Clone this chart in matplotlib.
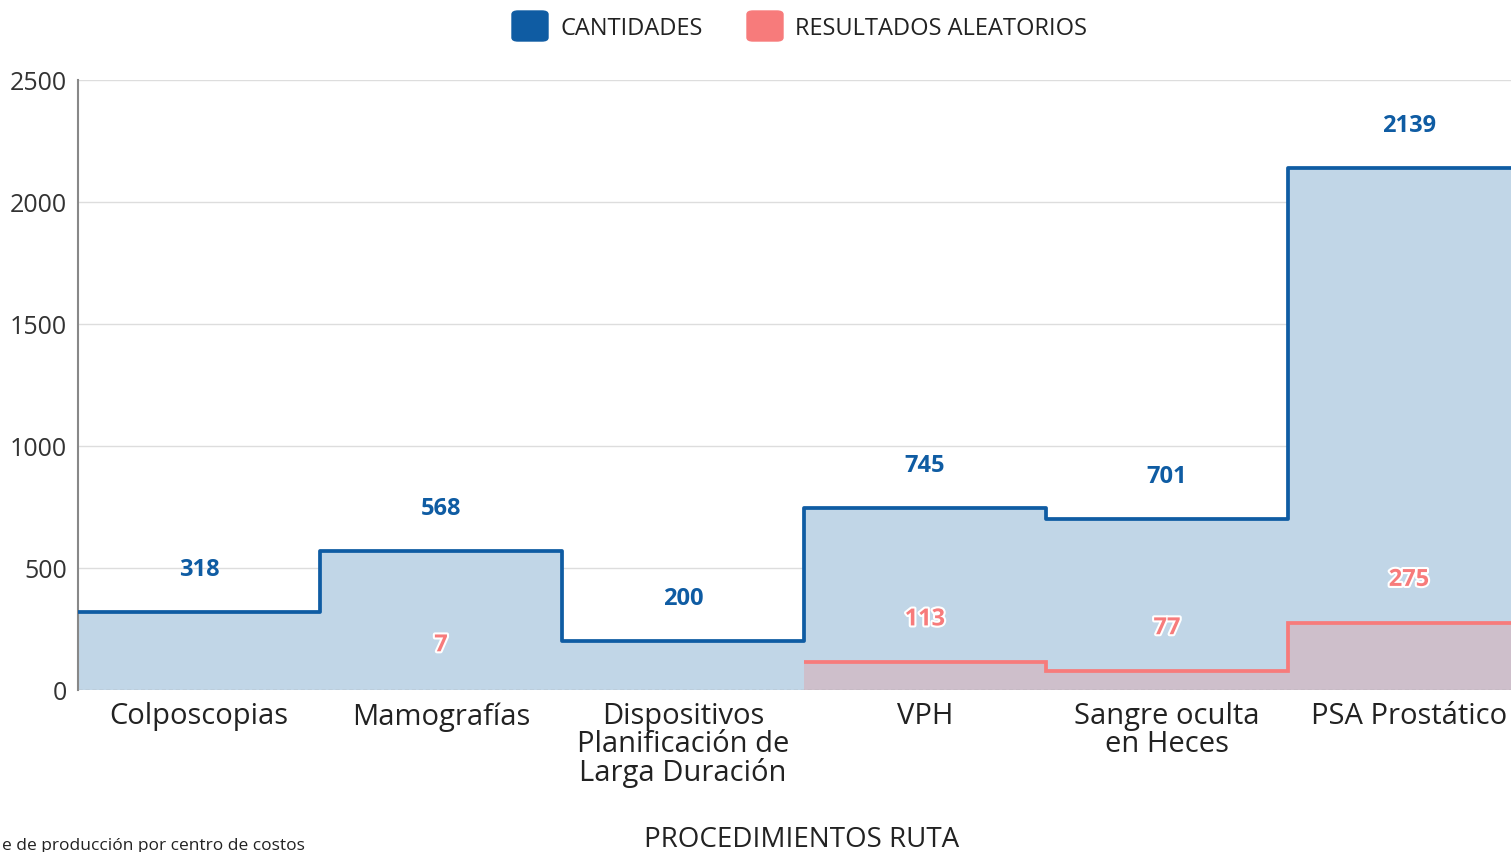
import numpy as np
import matplotlib
matplotlib.use("Agg")
import matplotlib.pyplot as plt
import matplotlib.patheffects as pe
from matplotlib.patches import FancyBboxPatch

plt.rcParams['font.family'] = ['Open Sans', 'DejaVu Sans']

categorias = ['Colposcopias', 'Mamografías', 'Dispositivos\nPlanificación de\nLarga Duración',
              'VPH', 'Sangre oculta\nen Heces', 'PSA Prostático']
cantidades = [318, 568, 200, 745, 701, 2139]
aleatorios = [np.nan, 7, np.nan, 113, 77, 275]

AZUL = '#0f5ca3'
AZUL_FILL = '#c1d6e7'
ROJO = '#f77b7b'

W, H = 1511, 853
fig = plt.figure(figsize=(W / 100, H / 100), dpi=100)
ax = fig.add_axes([78 / W, (H - 691) / H, (1530 - 78) / W, 610 / H])

n = len(categorias)
edges = np.arange(n + 1)

# serie azul
ax.stairs(cantidades, edges, baseline=0, fill=True, color=AZUL_FILL, zorder=1)
ax.stairs(cantidades, edges, baseline=None, color=AZUL, lw=2.7, zorder=4,
          joinstyle='round', capstyle='round')

# serie roja, solo los tramos con vecinos
al = np.array(aleatorios, dtype=float)
ok = ~np.isnan(al)
idx = [i for i in range(n) if ok[i] and ((i > 0 and ok[i - 1]) or (i < n - 1 and ok[i + 1]))]
if idx:
    a, b = idx[0], idx[-1] + 1
    ax.stairs(al[a:b], edges[a:b + 1], baseline=0, fill=True, color=ROJO, alpha=0.25,
              lw=0, zorder=2)
    ax.stairs(al[a:b], edges[a:b + 1], baseline=None, color=ROJO, lw=2.7, zorder=3)

# etiquetas
off = 2500 / 610 * 43
for i, v in enumerate(cantidades):
    ax.text(i + 0.5, v + off, str(v), ha='center', va='center', color=AZUL,
            fontsize=17, fontweight='bold', zorder=6)
for i, v in enumerate(aleatorios):
    if np.isnan(v):
        continue
    ax.text(i + 0.5, v + off, str(int(v)), ha='center', va='center', color=ROJO,
            fontsize=17, fontweight='bold', zorder=6,
            path_effects=[pe.withStroke(linewidth=3, foreground='white')])

ax.set_xlim(0, n)
ax.set_ylim(0, 2500)
ax.set_yticks(np.arange(0, 2501, 500))
ax.set_xticks(edges[:-1] + 0.5)
ax.set_xticklabels(categorias, fontsize=21, color='#222222', linespacing=0.95)
ax.tick_params(axis='both', length=0)
ax.tick_params(axis='y', labelsize=18, colors='#333333', pad=8)
ax.tick_params(axis='x', pad=8)
ax.grid(axis='y', color='#dddddd', lw=1, zorder=0)
ax.set_axisbelow(True)
for s in ['top', 'right', 'bottom']:
    ax.spines[s].set_visible(False)
ax.spines['left'].set_color('#888888')
ax.spines['left'].set_linewidth(1.5)
ax.axhline(0, color='#aaaaaa', lw=1, ls=(0, (3, 2)), zorder=5)

fig.text(802 / W, 1 - 840 / H, 'PROCEDIMIENTOS RUTA', ha='center', va='center',
         fontsize=20, color='#222222')
fig.text(2 / W, 1 - 846 / H, 'e de producción por centro de costos',
         ha='left', va='center', fontsize=12.5, color='#222222')

# leyenda
for x0, col, txt in [(512, AZUL, 'CANTIDADES'), (747, ROJO, 'RESULTADOS ALEATORIOS')]:
    fig.patches.append(FancyBboxPatch((x0 / W, 1 - 42 / H), 36 / W, 30 / H,
                                      boxstyle='round,pad=0,rounding_size=0.004',
                                      transform=fig.transFigure, color=col))
    fig.text((x0 + 48) / W, 1 - 29 / H, txt, ha='left', va='center', fontsize=17,
             color='#222222')

fig.savefig('out.png', dpi=100)
